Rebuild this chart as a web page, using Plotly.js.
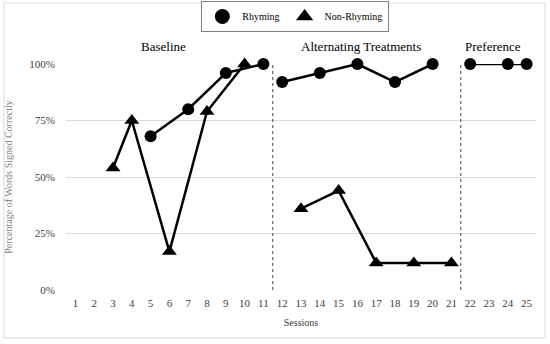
<!DOCTYPE html>
<html><head><meta charset="utf-8">
<script src="https://cdn.plot.ly/plotly-3.0.1.min.js"></script>
<style>html,body{margin:0;padding:0;background:#fff}</style>
</head><body><div id="chart" style="width:550px;height:344px"></div>
<script>
const sessions = ["1","2","3","4","5","6","7","8","9","10","11","12","13","14","15","16","17","18","19","20","21","22","23","24","25"];
const rhymingX = [5, 7, 9, 11, null, 12, 14, 16, 18, 20, null, 22, 24, 25];
const rhymingY = [68, 80, 96, 100, null, 92, 96, 100, 92, 100, null, 100, 100, 100];
const nonRhymingX = [3, 4, 6, 8, 10, null, 13, 15, 17, 19, 21];
const nonRhymingY = [54, 75, 17, 79, 100, null, 36, 44, 12, 12, 12];
const phaseChanges = [11.5, 21.5];
const phaseLabels = ["Baseline", "Alternating Treatments", "Preference"];
const phaseLabelX = [5.7, 16.2, 23.2];
const yTicks = [0, 25, 50, 75, 100];
const yTickText = ["0%", "25%", "50%", "75%", "100%"];

const font = "Liberation Serif";
const traces = [
  {x: rhymingX, y: rhymingY, mode: "lines+markers", showlegend: false, connectgaps: false,
   line: {color: "#000", width: 2.5}, marker: {symbol: "circle", size: 12, color: "#000"}, cliponaxis: false},
  {x: nonRhymingX, y: nonRhymingY, mode: "lines+markers", showlegend: false, connectgaps: false,
   line: {color: "#000", width: 2.5}, marker: {symbol: "triangle-up", size: 13, color: "#000"}, cliponaxis: false},
  {x: [null], y: [null], mode: "markers", name: "Rhyming", marker: {symbol: "circle", size: 15, color: "#000"}},
  {x: [null], y: [null], mode: "markers", name: "Non-Rhyming", marker: {symbol: "triangle-up", size: 15, color: "#000"}}
];
const shapes = phaseChanges.map(v => ({type: "line", xref: "x", yref: "y", x0: v, x1: v, y0: 0, y1: 100,
  line: {color: "#404040", width: 1, dash: "dot"}}));
shapes.push({type: "rect", xref: "paper", yref: "paper", x0: -0.132, x1: 1.019, y0: -0.212, y1: 1.27,
  line: {color: "#d9d9d9", width: 1}, layer: "below"});
const annotations = phaseLabels.map((t, i) => ({text: t, x: phaseLabelX[i], xref: "x", yref: "paper",
  y: (290 - 46.5) / 226, yanchor: "middle", showarrow: false, font: {family: font, size: 13, color: "#000"}}));

const layout = {
  width: 550, height: 344,
  margin: {l: 66, r: 14, t: 64, b: 54, autoexpand: false},
  paper_bgcolor: "#fff", plot_bgcolor: "#fff",
  font: {family: font, color: "#404040"},
  showlegend: true,
  legend: {orientation: "h", x: 0.488, xanchor: "center", y: (290 - 16.5) / 226, yanchor: "middle",
    bordercolor: "#7f7f7f", borderwidth: 1, font: {family: font, size: 10, color: "#000"},
    tracegroupgap: 0},
  xaxis: {type: "linear", range: [0.5, 25.5], tickvals: sessions.map(Number), ticktext: sessions,
    showgrid: false, zeroline: false, showline: false, ticks: "", ticklabelstandoff: 5,
    tickfont: {family: font, size: 11, color: "#404040"},
    title: {text: "Sessions", font: {family: font, size: 10, color: "#404040"}, standoff: 10}},
  yaxis: {range: [0, 100], tickvals: yTicks, ticktext: yTickText, showgrid: true, gridcolor: "#d9d9d9",
    gridwidth: 1, zeroline: false, showline: false, ticks: "", ticklabelstandoff: 10,
    tickfont: {family: font, size: 11, color: "#404040"},
    title: {text: "Percentage of Words Signed Correctly", font: {family: font, size: 10, color: "#7f7f7f"}, standoff: 14}},
  shapes: shapes, annotations: annotations
};
Plotly.newPlot("chart", traces, layout, {displayModeBar: false, staticPlot: true});
</script></body></html>
